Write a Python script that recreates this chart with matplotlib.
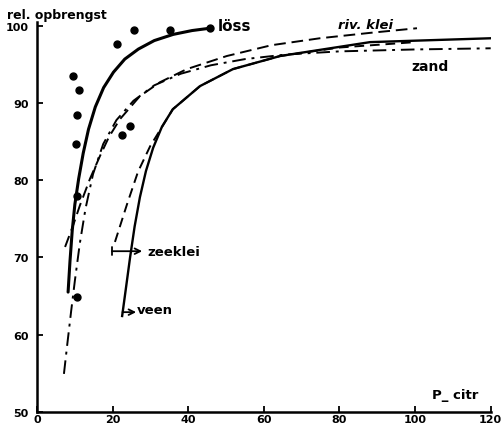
import numpy as np
import matplotlib
matplotlib.use('Agg')
import matplotlib.pyplot as plt

# curves
loss_x = [8.2, 8.7, 9.3, 10.0, 11.0, 12.2, 13.6, 15.4, 17.6, 20.2, 23.2, 26.8, 31.0, 36.0, 41.0, 45.7]
loss_y = [65.5, 69.5, 73.5, 76.9, 80.2, 83.5, 86.6, 89.5, 92.0, 94.0, 95.7, 97.0, 98.1, 98.9, 99.4, 99.7]

# measured points (loss)
pts_x = [9.4, 11.1, 10.6, 10.3, 10.6, 10.5, 22.5, 24.6, 21.2, 25.6, 35.2, 45.7]
pts_y = [93.5, 91.7, 88.5, 84.7, 77.9, 64.8, 85.9, 87.0, 97.6, 99.5, 99.5, 99.7]

rivklei_x = [7.4, 9.5, 11.3, 14.0, 16.6, 19.0, 21.9, 27.2, 32.5, 39.6, 50.2, 62.0, 74.8, 88.1, 100.5]
rivklei_y = [71.35, 74.1, 76.7, 80.2, 83.1, 85.6, 87.9, 90.9, 92.7, 94.4, 96.1, 97.5, 98.4, 99.1, 99.7]

zand_x = [7.1, 8.0, 9.0, 10.0, 11.3, 12.8, 14.8, 17.5, 21.0, 25.5, 31.0, 38.0, 46.0, 55.0, 66.0, 80.0, 100.0, 120.0]
zand_y = [54.9, 58.8, 63.0, 67.0, 71.8, 76.3, 80.8, 84.7, 87.8, 90.3, 92.3, 93.8, 94.9, 95.7, 96.3, 96.7, 96.95, 97.1]

zeeklei_x = [20.6, 23.8, 26.7, 29.9, 35.9, 43.1, 51.8, 64.3, 80.0, 100.0]
zeeklei_y = [72.0, 76.9, 81.1, 84.4, 89.2, 92.2, 94.4, 96.1, 97.2, 97.9]

veen_x = [22.5, 23.5, 24.6, 25.8, 27.2, 28.8, 30.7, 33.0, 35.9, 43.1, 51.8, 64.3, 88.1, 120.0]
veen_y = [62.4, 66.0, 70.0, 74.0, 77.8, 81.2, 84.2, 86.9, 89.2, 92.2, 94.4, 96.1, 97.9, 98.4]

xticks = [0, 20, 40, 60, 80, 100, 120]
yticks = [50, 60, 70, 80, 90, 100]

fnt = 'DejaVu Sans'

fig = plt.figure(figsize=(5.04, 4.31), dpi=100)
ax = fig.add_axes([0.0736, 0.0425, 0.9, 0.904])

ax.plot(loss_x, loss_y, color='black', lw=2.2, solid_capstyle='round', solid_joinstyle='round')
ax.plot(pts_x, pts_y, 'o', color='black', ms=5)
ax.plot(rivklei_x, rivklei_y, color='black', lw=1.4, dashes=(6, 3))
ax.plot(zand_x, zand_y, color='black', lw=1.4, dashes=(7, 3, 1.5, 3))
ax.plot(zeeklei_x, zeeklei_y, color='black', lw=1.4, dashes=(5, 3))
ax.plot(veen_x, veen_y, color='black', lw=1.7, solid_joinstyle='round')

ax.set_xlim(0, 120)
ax.set_ylim(50, 100.5)
ax.set_xticks(xticks)
ax.set_yticks(yticks)
ax.set_xticklabels([str(t) for t in xticks], fontsize=8, fontweight='bold', family=fnt)
ax.set_yticklabels([str(t) for t in yticks], fontsize=8, fontweight='bold', family=fnt)
ax.tick_params(direction='in', length=4, width=1.3)
ax.tick_params(axis='x', pad=2)
ax.tick_params(axis='y', pad=6)

for s in ['top', 'right']:
	ax.spines[s].set_visible(False)
for s in ['left', 'bottom']:
	ax.spines[s].set_linewidth(1.8)

# labels on the curves
ax.text(47.9, 100.0, 'löss', fontsize=11, fontweight='bold', family=fnt, va='center', ha='left')
ax.text(86.8, 100.2, 'riv. klei', fontsize=9.5, fontweight='bold', style='italic', family=fnt, va='center', ha='center')
ax.text(103.9, 94.8, 'zand', fontsize=10, fontweight='bold', family=fnt, va='center', ha='center')
ax.text(29.1, 70.8, 'zeeklei', fontsize=9.5, fontweight='bold', family=fnt, va='center', ha='left')
ax.text(26.4, 63.2, 'veen', fontsize=9.5, fontweight='bold', family=fnt, va='center', ha='left')
ax.text(110.5, 52.2, 'P_ citr', fontsize=9.5, fontweight='bold', family=fnt, va='center', ha='center')

ax.annotate('', xy=(27.8, 70.8), xytext=(19.8, 70.8),
			arrowprops=dict(arrowstyle=']->,widthA=0.3,lengthA=0', color='black', lw=1.3,
							shrinkA=0, shrinkB=0))
ax.annotate('', xy=(26.2, 62.9), xytext=(22.6, 62.9),
			arrowprops=dict(arrowstyle='->', color='black', lw=1.3, shrinkA=0, shrinkB=0))

fig.text(7 / 504, 1 - 16 / 431, 'rel. opbrengst', fontsize=9, fontweight='bold', family=fnt,
		 va='center', ha='left')

fig.savefig('out.png', dpi=100)
